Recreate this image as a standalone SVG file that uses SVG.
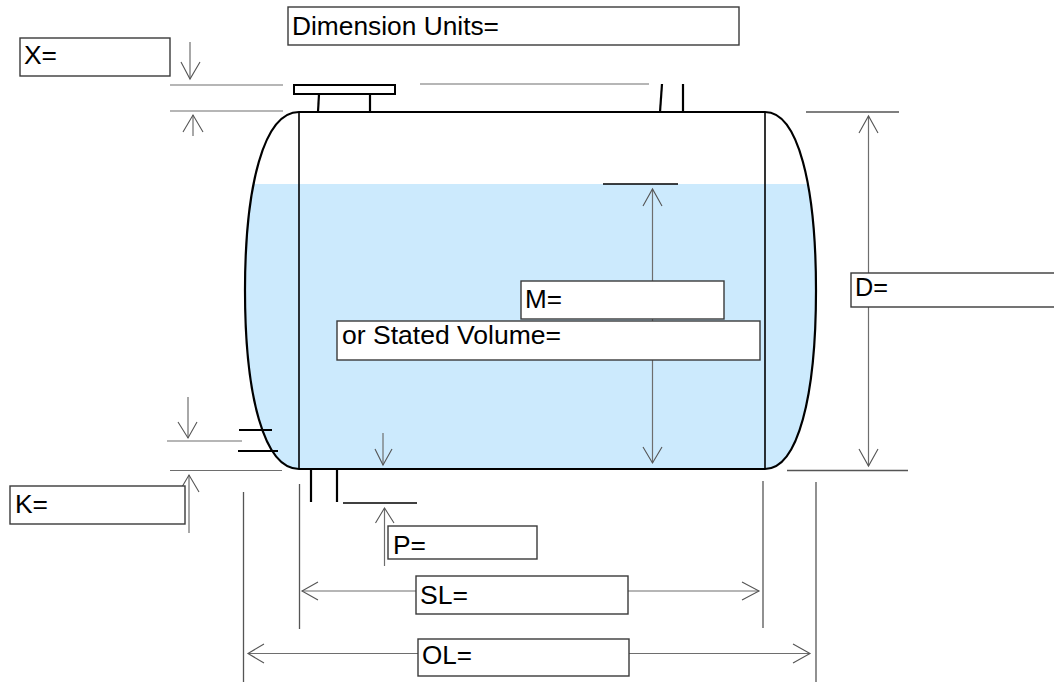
<svg xmlns="http://www.w3.org/2000/svg" width="1054" height="682" viewBox="0 0 1054 682">
<style>
.box{fill:#fff;stroke:#3a3a3a;stroke-width:1.4}
.lbl{font-family:"Liberation Sans",Arial,sans-serif;font-size:26px;fill:#000}
.dim{fill:none;stroke:#6e6e6e;stroke-width:1.2}
.ah{fill:none;stroke:#555;stroke-width:1.1}
.ext{fill:none;stroke:#555;stroke-width:1.3}
.tk{fill:none;stroke:#000;stroke-width:2.2}
.tk2{fill:none;stroke:#000;stroke-width:1.6}
</style>
<defs>
<clipPath id="liq"><rect x="200" y="184" width="700" height="300"/></clipPath>
</defs>
<rect width="1054" height="682" fill="#fff"/>
<g id="tank">
<path d="M299,112 C264,112 245,185 245,290.5 C245,396 264,469 299,469 L765,469 C798,469 816,396 816,290.5 C816,185 798,112 765,112 Z" fill="#cceafd" clip-path="url(#liq)"/>
<path class="tk" d="M299,112 C264,112 245,185 245,290.5 C245,396 264,469 299,469 L765,469 C798,469 816,396 816,290.5 C816,185 798,112 765,112 Z"/>
<line class="tk2" x1="299" y1="112" x2="299" y2="469"/>
<line class="tk2" x1="765" y1="112" x2="765" y2="469"/>
<rect x="294" y="85" width="101" height="9" fill="#fff" stroke="#000" stroke-width="2"/>
<line class="tk" x1="319" y1="94" x2="318" y2="112"/>
<line class="tk" x1="370" y1="94" x2="370" y2="112"/>
<line class="tk" x1="662" y1="84" x2="660" y2="112"/>
<line class="tk" x1="683" y1="84" x2="683" y2="112"/>
<line class="tk" x1="239" y1="430" x2="272" y2="430"/>
<line class="tk" x1="238" y1="451" x2="278" y2="451"/>
<line class="tk" x1="311" y1="469" x2="311" y2="502"/>
<line class="tk" x1="337" y1="469" x2="337" y2="502"/>
</g>
<g id="connectors">
<line class="dim" x1="420" y1="84" x2="649" y2="84"/>
<line class="dim" x1="170" y1="85" x2="283" y2="85"/>
<line class="dim" x1="170" y1="111" x2="283" y2="111"/>
<line class="dim" x1="190" y1="42" x2="190" y2="79"/>
<polyline class="ah" points="181,62 190,79 200,62"/>
<line class="dim" x1="193" y1="115" x2="193" y2="136"/>
<polyline class="ah" points="183,132 193,115 203,132"/>
<line class="ext" x1="806" y1="112" x2="899" y2="112"/>
<line class="ext" x1="787" y1="470.5" x2="908" y2="470.5"/>
<line class="dim" x1="868.5" y1="116" x2="868.5" y2="466"/>
<polyline class="ah" points="859,133 868.5,116 878,133"/>
<polyline class="ah" points="859,449 868.5,466 878,449"/>
<line class="tk2" x1="603" y1="184" x2="678" y2="184"/>
<line class="dim" x1="652.5" y1="189" x2="652.5" y2="463"/>
<polyline class="ah" points="643,206 652.5,189 662,206"/>
<polyline class="ah" points="643,447 652.5,463 662,447"/>
<line class="dim" x1="167" y1="441" x2="242" y2="441"/>
<line class="dim" x1="170" y1="470.5" x2="282" y2="470.5"/>
<line class="dim" x1="188" y1="397" x2="188" y2="438"/>
<polyline class="ah" points="178,422 188,438 197,422"/>
<line class="dim" x1="189" y1="475" x2="189" y2="533"/>
<polyline class="ah" points="179,492 189,475 199,492"/>
<line class="tk2" x1="343" y1="503" x2="417" y2="503"/>
<line class="dim" x1="383" y1="433" x2="383" y2="465"/>
<polyline class="ah" points="375,449 383,465 392,449"/>
<line class="dim" x1="384.5" y1="508" x2="384.5" y2="566"/>
<polyline class="ah" points="375.5,523 384.5,508 394,523"/>
<line class="ext" x1="299.5" y1="484" x2="299.5" y2="629"/>
<line class="ext" x1="763" y1="481" x2="763" y2="628"/>
<line class="dim" x1="302" y1="591" x2="759" y2="591"/>
<polyline class="ah" points="318,582 302,591 318,600"/>
<polyline class="ah" points="742,582 759,591 742,600"/>
<line class="ext" x1="243.5" y1="492" x2="243.5" y2="682"/>
<line class="ext" x1="816" y1="482" x2="816" y2="682"/>
<line class="dim" x1="248" y1="653.5" x2="810" y2="653.5"/>
<polyline class="ah" points="264,644 248,653.5 264,663"/>
<polyline class="ah" points="793,644 810,653.5 793,663"/>
</g>
<g id="node-units"><rect class="box" x="288" y="7" width="451" height="38"/><text class="lbl" x="292" y="35" textLength="207" lengthAdjust="spacingAndGlyphs">Dimension Units=</text></g>
<g id="node-x"><rect class="box" x="20" y="38" width="150" height="38"/><text class="lbl" x="24" y="64" textLength="33" lengthAdjust="spacingAndGlyphs">X=</text></g>
<g id="node-d"><rect class="box" x="851" y="273" width="220" height="34"/><text class="lbl" x="855" y="296" textLength="33" lengthAdjust="spacingAndGlyphs">D=</text></g>
<g id="node-m"><rect class="box" x="521" y="281" width="203" height="38"/><text class="lbl" x="525" y="308" textLength="37" lengthAdjust="spacingAndGlyphs">M=</text></g>
<g id="node-vol"><rect class="box" x="337" y="321" width="423" height="39"/><text class="lbl" x="342" y="344" textLength="219" lengthAdjust="spacingAndGlyphs">or Stated Volume=</text></g>
<g id="node-k"><rect class="box" x="10" y="486" width="175" height="38"/><text class="lbl" x="15" y="513" textLength="33" lengthAdjust="spacingAndGlyphs">K=</text></g>
<g id="node-p"><rect class="box" x="388" y="526" width="149" height="33"/><text class="lbl" x="393" y="554" textLength="33" lengthAdjust="spacingAndGlyphs">P=</text></g>
<g id="node-sl"><rect class="box" x="416" y="576" width="212" height="38"/><text class="lbl" x="420" y="604" textLength="48" lengthAdjust="spacingAndGlyphs">SL=</text></g>
<g id="node-ol"><rect class="box" x="418" y="639" width="211" height="37"/><text class="lbl" x="422" y="664" textLength="50" lengthAdjust="spacingAndGlyphs">OL=</text></g>
</svg>
